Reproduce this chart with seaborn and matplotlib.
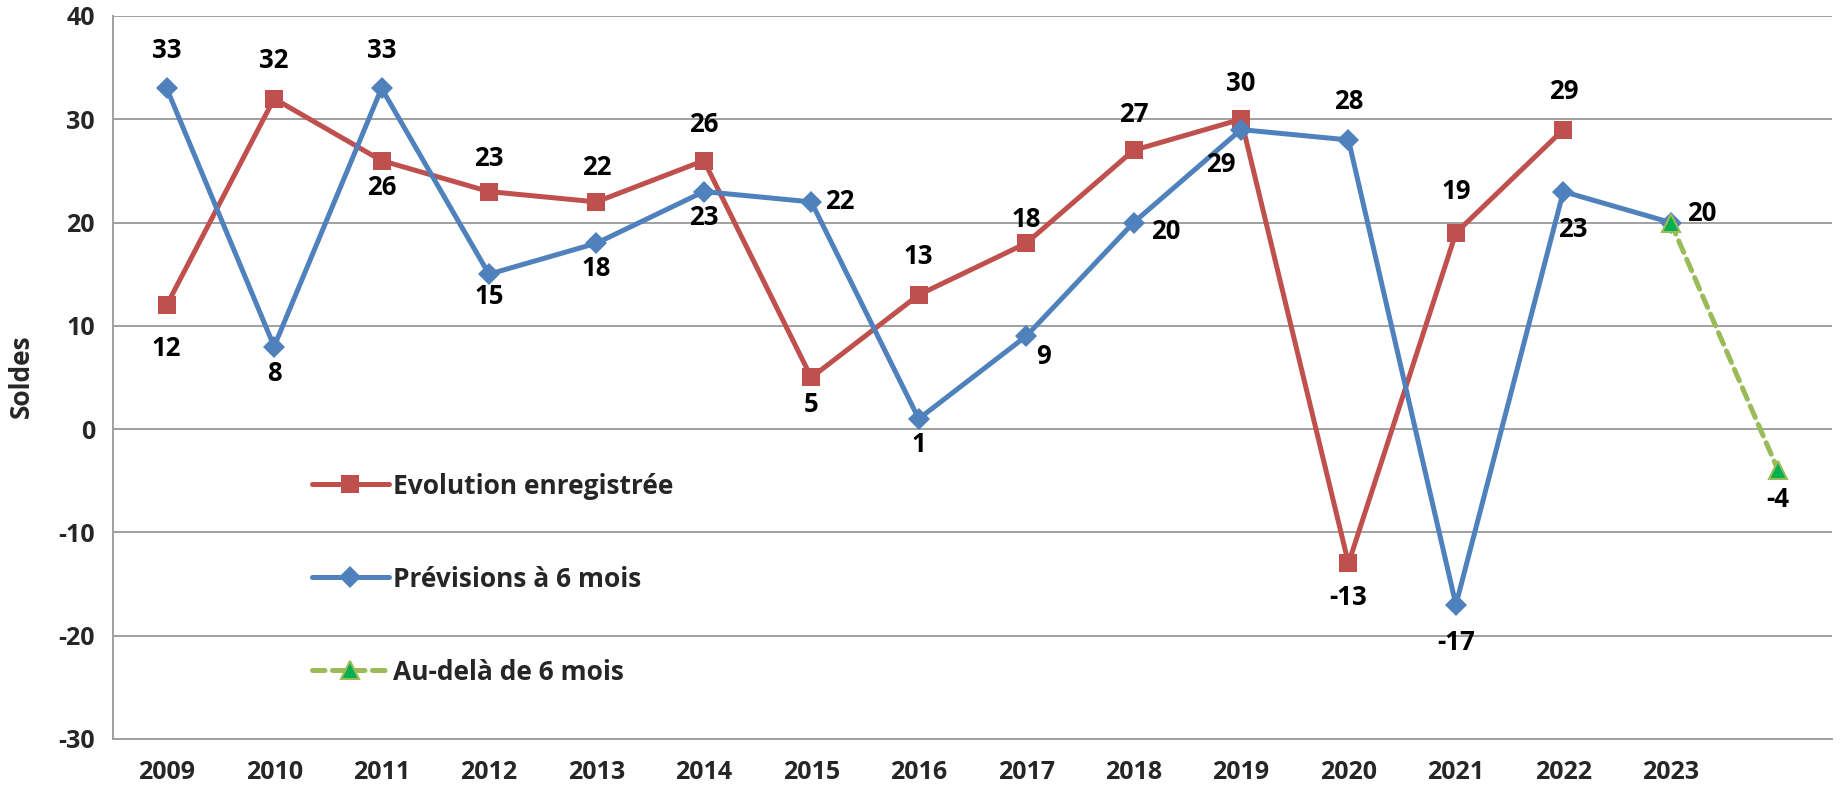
import matplotlib
matplotlib.use("Agg")
import matplotlib.pyplot as plt
import seaborn as sns
import pandas as pd

# categories on the x axis (last slot has no label)
years = ["2009", "2010", "2011", "2012", "2013", "2014", "2015", "2016",
         "2017", "2018", "2019", "2020", "2021", "2022", "2023", ""]

evolution = [12, 32, 26, 23, 22, 26, 5, 13, 18, 27, 30, -13, 19, 29]
previsions = [33, 8, 33, 15, 18, 23, 22, 1, 9, 20, 29, 28, -17, 23, 20]
audela = [20, -4]          # 2023 and the slot after
audela_start = 14          # index in years where the green segment starts

# label placement (pixel offsets from the point)
evo_off = [(0, -43), (0, 38), (0, -27), (0, 33), (0, 34), (0, 36), (0, -27),
           (0, 38), (0, 24), (0, 36), (0, 36), (0, -34), (0, 41), (0, 38)]
prev_off = [(0, 38), (0, -27), (0, 38), (0, -22), (0, -25), (0, -26), (28, 0),
            (0, -26), (17, -20), (32, -9), (-20, -35), (0, 38), (0, -38),
            (9, -38), (31, 9)]
aud_off = [None, (0, -29)]

RED = "#C0504D"
BLUE = "#4F81BD"
GREEN = "#9BBB59"
GREEN_FILL = "#00B050"
GRID = "#A0A0A0"

sns.set_style("white")
plt.rcParams["font.family"] = ["Open Sans", "DejaVu Sans"]
plt.rcParams["font.weight"] = "bold"
plt.rcParams["axes.unicode_minus"] = False

fig = plt.figure(figsize=(18.43, 7.88), dpi=100)
ax = fig.add_axes([0.0613, 0.0622, 0.994 - 0.0613, 0.9797 - 0.0622])

df_evo = pd.DataFrame({"x": range(len(evolution)), "y": evolution})
df_prev = pd.DataFrame({"x": range(len(previsions)), "y": previsions})
df_aud = pd.DataFrame({"x": range(audela_start, audela_start + len(audela)), "y": audela})

sns.lineplot(data=df_evo, x="x", y="y", ax=ax, color=RED, lw=3.6,
             marker="s", markersize=13, markeredgewidth=0, label="Evolution enregistrée",
             zorder=3)
sns.lineplot(data=df_prev, x="x", y="y", ax=ax, color=BLUE, lw=3.6,
             marker="D", markersize=11, markeredgewidth=0, label="Prévisions à 6 mois",
             zorder=4)
sns.lineplot(data=df_aud, x="x", y="y", ax=ax, color=GREEN, lw=3.6,
             marker="^", markersize=13, markerfacecolor=GREEN_FILL,
             markeredgecolor=GREEN, markeredgewidth=1.5, label="Au-delà de 6 mois",
             zorder=5)
ax.lines[-1].set_dashes([2.5, 1.5])
ax.lines[-1].set_dash_capstyle("round")

def put_labels(xs, ys, offs):
    for x, y, o in zip(xs, ys, offs):
        if o is None:
            continue
        ax.annotate(f"{y}", (x, y), xytext=o, textcoords="offset pixels",
                    ha="center", va="center", fontsize=18.5, fontweight="bold",
                    color="black", zorder=6)

put_labels(df_evo["x"], df_evo["y"], evo_off)
put_labels(df_prev["x"], df_prev["y"], prev_off)
put_labels(df_aud["x"], df_aud["y"], aud_off)

ax.set_xlim(-0.5, len(years) - 0.5)
ax.set_ylim(-30, 40)
ax.set_xticks(range(len(years)))
ax.set_xticklabels(years)
ax.set_yticks(range(-30, 41, 10))
ax.tick_params(axis="x", length=0, pad=15, labelsize=18)
ax.tick_params(axis="y", length=6, width=1.4, color=GRID, pad=7, labelsize=18, direction="out")
for t in ax.get_xticklabels() + ax.get_yticklabels():
    t.set_fontweight("bold")
ax.yaxis.grid(True, color=GRID, lw=1.4)
ax.set_axisbelow(True)
for s in ["top", "right"]:
    ax.spines[s].set_visible(False)
for s in ["left", "bottom"]:
    ax.spines[s].set_color(GRID)
    ax.spines[s].set_linewidth(1.4)
ax.set_xlabel("")
ax.set_ylabel("")
fig.text(21 / 1843, 0.523, "Soldes", rotation=90, ha="center", va="center",
         fontsize=19, fontweight="bold")

leg = ax.legend(loc="upper left", bbox_to_anchor=(0.1158, 0.3685), frameon=False,
                fontsize=19, labelspacing=2.5, handlelength=2.9, handletextpad=0.15,
                borderpad=0, borderaxespad=0)
for t in leg.get_texts():
    t.set_fontweight("bold")

fig.savefig("out.png", dpi=100)
